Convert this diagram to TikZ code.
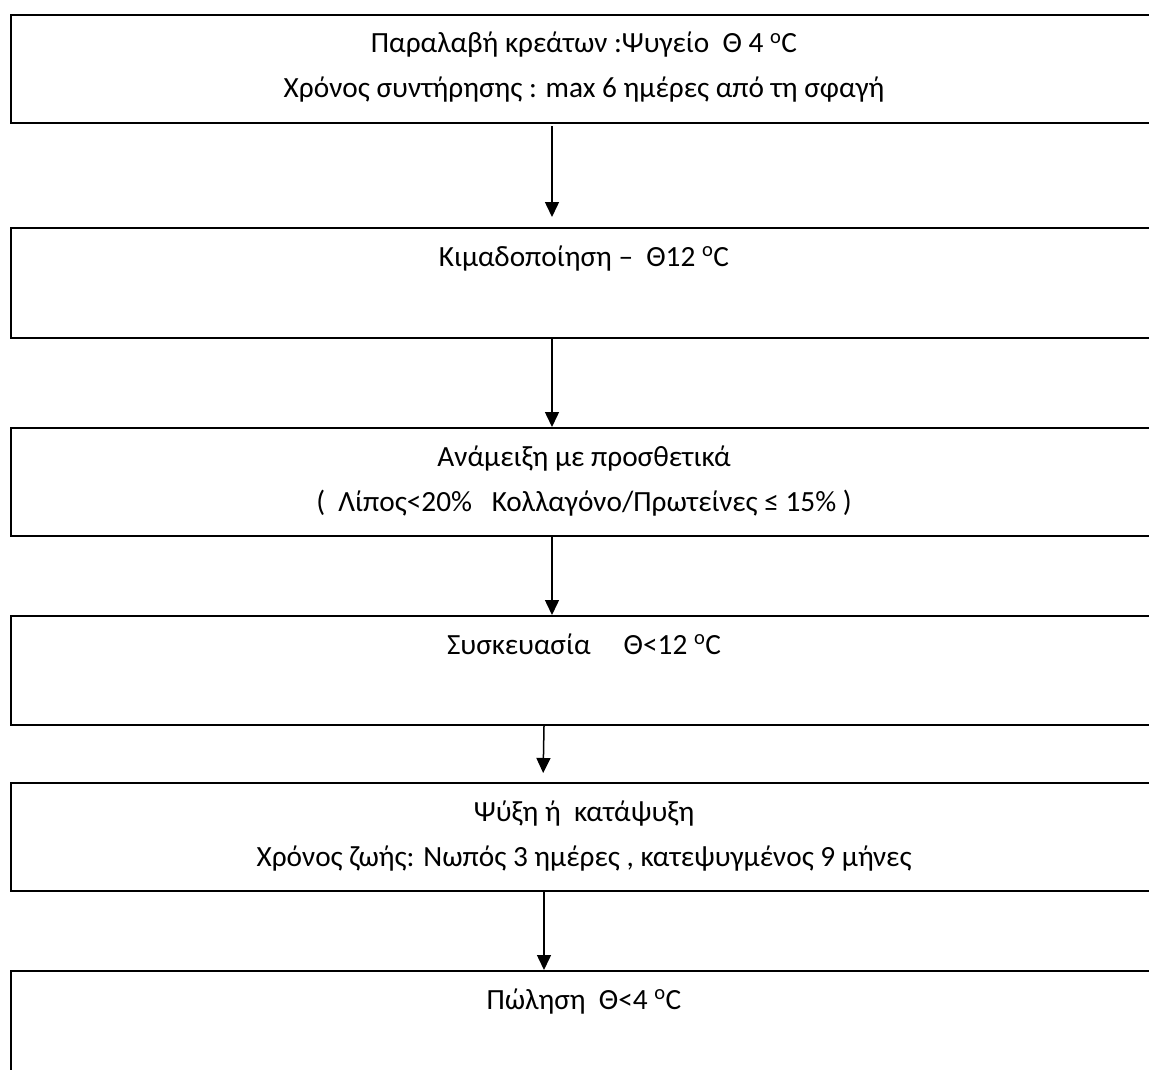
\documentclass[tikz,border=0pt]{standalone}
\usepackage{fontspec}
\setmainfont{Carlito}
\usetikzlibrary{arrows.meta}
\begin{document}
\begin{tikzpicture}[x=1pt,y=-1pt,
  box/.style={draw=black, line width=2.2pt, anchor=north west, minimum width=1200pt, inner sep=0pt},
  lbl/.style={anchor=base, font=\fontsize{29.3}{35}\selectfont, inner sep=0pt},
  arr/.style={line width=1.5pt, -{Triangle[width=14pt,length=15pt]}}]
\useasboundingbox (0,0) rectangle (1149,1070);
\clip (0,0) rectangle (1149,1070);
% boxes
\node[box, minimum height=108pt] (b1) at (10,14) {};
\node[box, minimum height=110pt] (b2) at (10,227) {};
\node[box, minimum height=108pt] (b3) at (10,427) {};
\node[box, minimum height=109pt] (b4) at (10,615) {};
\node[box, minimum height=108pt] (b5) at (10,782) {};
\node[box, minimum height=140pt] (b6) at (10,970) {};
% texts
\node[lbl] (t1a) at (584,53) {Παραλαβή κρεάτων :Ψυγείο~~Θ 4 \textsuperscript{o}C};
\node[lbl] (t1b) at (584,98) {Χρόνος συντήρησης : max 6 ημέρες από τη σφαγή};
\node[lbl] (t2) at (584,266) {Κιμαδοποίηση –~~Θ12 \textsuperscript{o}C};
\node[lbl] (t3a) at (584,466) {Ανάμειξη με προσθετικά};
\node[lbl] (t3b) at (584,511) {(~~Λίπος<20\%~~~Κολλαγόνο/Πρωτείνες ≤ 15\% )};
\node[lbl] (t4) at (584,654) {Συσκευασία~~~~~Θ<12 \textsuperscript{o}C};
\node[lbl] (t5a) at (584,821) {Ψύξη ή~~κατάψυξη};
\node[lbl] (t5b) at (584,866) {Χρόνος ζωής: Νωπός 3 ημέρες , κατεψυγμένος 9 μήνες};
\node[lbl] (t6) at (584,1009) {Πώληση~~Θ<4 \textsuperscript{o}C};
% connector columns
\coordinate (xa) at (552,0);
\coordinate (xb) at (544,0);
\coordinate (xc) at (543,0);
\draw[arr, shorten >=10pt, shorten <=2pt] (b1.south -| xa) -- (b2.north -| xa);
\draw[arr] (b2.south -| xa) -- (b3.north -| xa);
\draw[arr] (b3.south -| xa) -- (b4.north -| xa);
\draw[arr, shorten >=9pt] (b4.south -| xb) -- (b5.north -| xc);
\draw[arr] (b5.south -| xb) -- (b6.north -| xb);
\end{tikzpicture}
\end{document}
